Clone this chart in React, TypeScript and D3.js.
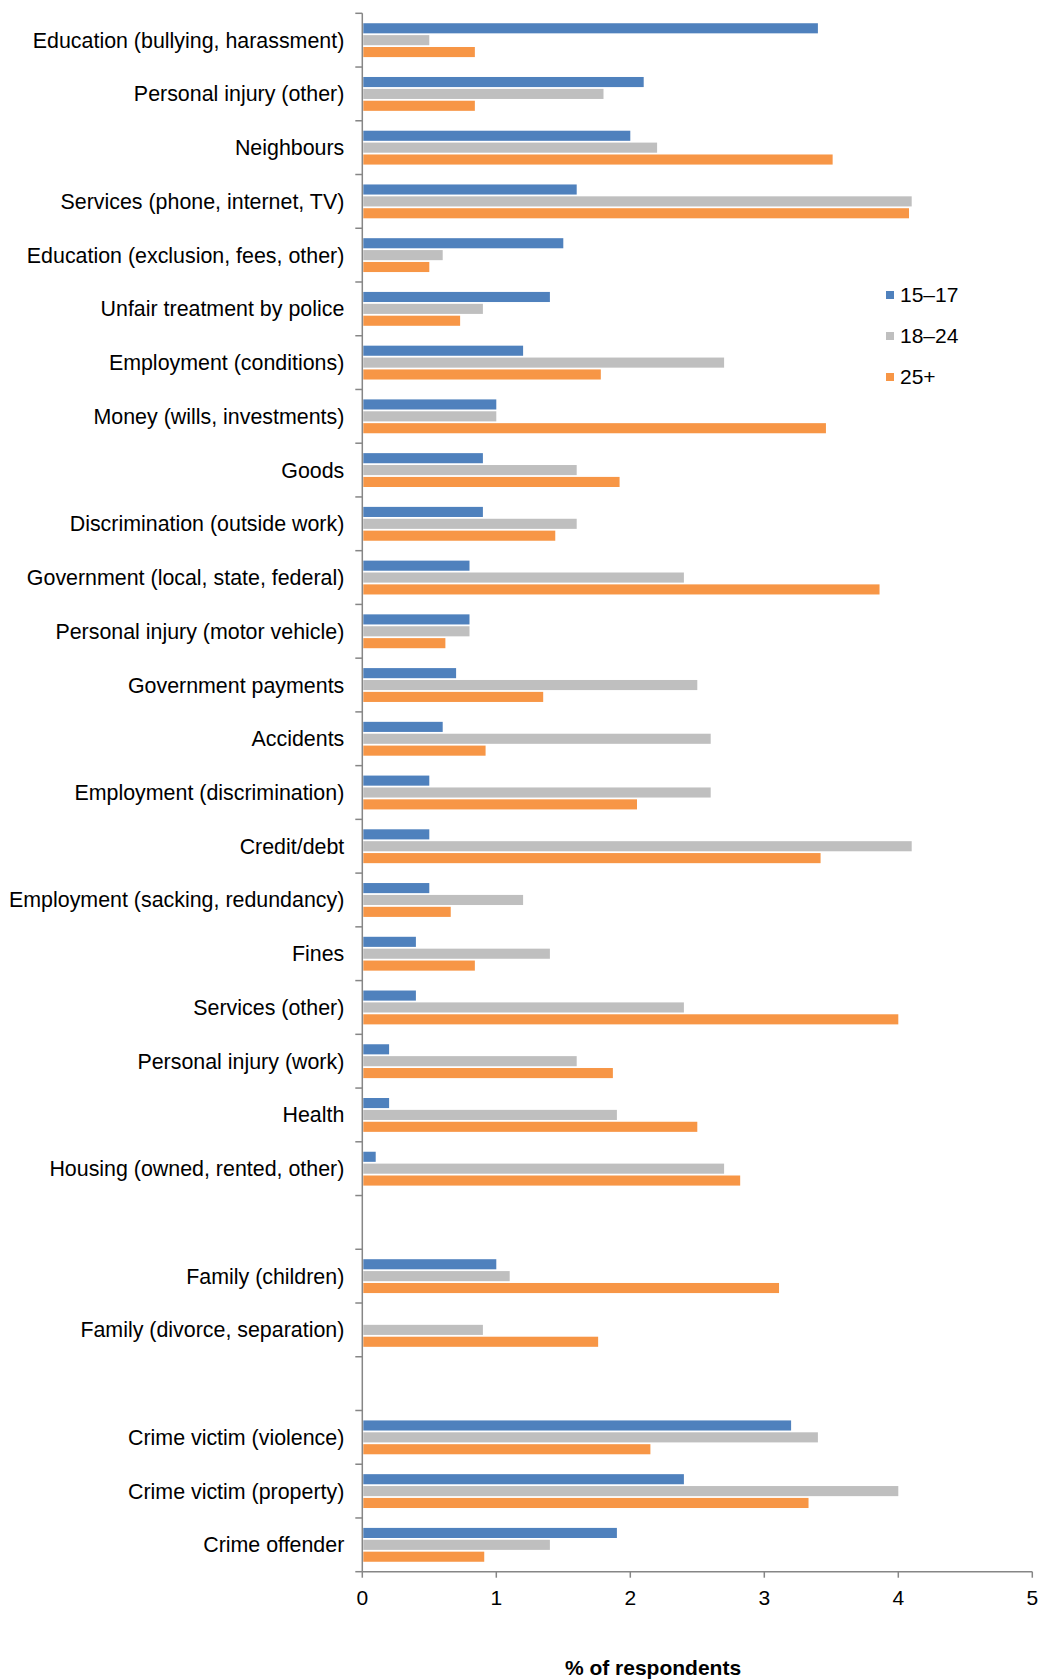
import { useEffect, useRef } from "react"
import * as d3 from "d3"

// rows top to bottom; "" = empty spacer row
const CATEGORIES = [
  "Education (bullying, harassment)",
  "Personal injury (other)",
  "Neighbours",
  "Services (phone, internet, TV)",
  "Education (exclusion, fees, other)",
  "Unfair treatment by police",
  "Employment (conditions)",
  "Money (wills, investments)",
  "Goods",
  "Discrimination (outside work)",
  "Government (local, state, federal)",
  "Personal injury (motor vehicle)",
  "Government payments",
  "Accidents",
  "Employment (discrimination)",
  "Credit/debt",
  "Employment (sacking, redundancy)",
  "Fines",
  "Services (other)",
  "Personal injury (work)",
  "Health",
  "Housing (owned, rented, other)",
  "",
  "Family (children)",
  "Family (divorce, separation)",
  "",
  "Crime victim (violence)",
  "Crime victim (property)",
  "Crime offender",
]

const AGE_15_17 = [3.4, 2.1, 2.0, 1.6, 1.5, 1.4, 1.2, 1.0, 0.9, 0.9, 0.8, 0.8, 0.7, 0.6, 0.5, 0.5, 0.5, 0.4, 0.4, 0.2, 0.2, 0.1, null, 1.0, 0, null, 3.2, 2.4, 1.9]
const AGE_18_24 = [0.5, 1.8, 2.2, 4.1, 0.6, 0.9, 2.7, 1.0, 1.6, 1.6, 2.4, 0.8, 2.5, 2.6, 2.6, 4.1, 1.2, 1.4, 2.4, 1.6, 1.9, 2.7, null, 1.1, 0.9, null, 3.4, 4.0, 1.4]
const AGE_25_PLUS = [0.84, 0.84, 3.51, 4.08, 0.5, 0.73, 1.78, 3.46, 1.92, 1.44, 3.86, 0.62, 1.35, 0.92, 2.05, 3.42, 0.66, 0.84, 4.0, 1.87, 2.5, 2.82, null, 3.11, 1.76, null, 2.15, 3.33, 0.91]

const SERIES = ["15–17", "18–24", "25+"]
const COLORS = ["#4F81BD", "#BFBFBF", "#F79646"]
const X_TICKS = [0, 1, 2, 3, 4, 5]

const W = 1040
const H = 1679
const FONT = "'Liberation Sans', Arial, sans-serif"

export default function App() {
  const svgRef = useRef<SVGSVGElement>(null)

  useEffect(() => {
    const svg = d3.select(svgRef.current)
    svg.selectAll("*").remove()

    const left = 362.3
    const right = 1032.3
    const top = 13.3
    const bottom = 1571.7
    const axisColor = "#868686"

    const x = d3.scaleLinear().domain([0, 5]).range([left, right])
    const keys = CATEGORIES.map((_, i) => String(i))
    const y = d3.scaleBand().domain(keys).range([top, bottom]).paddingInner(0.37).paddingOuter(0.185)
    const step = y.step()
    const sub = d3.scaleBand().domain(SERIES).range([0, y.bandwidth()]).paddingInner(0.15)

    const seriesValues = [AGE_15_17, AGE_18_24, AGE_25_PLUS]

    // bars
    seriesValues.forEach((vals, si) => {
      svg.append("g").selectAll("rect")
        .data(vals.map((v, i) => ({ v, i })).filter((d) => d.v != null && d.v > 0))
        .join("rect")
        .attr("x", x(0) + 1)
        .attr("y", (d) => (y(String(d.i)) ?? 0) + (sub(SERIES[si]) ?? 0))
        .attr("width", (d) => x(d.v as number) - x(0) - 1)
        .attr("height", sub.bandwidth())
        .attr("fill", COLORS[si])
    })

    // y axis line and ticks at row boundaries
    const ga = svg.append("g").attr("stroke", axisColor).attr("stroke-width", 1.5)
    ga.append("line").attr("x1", left).attr("x2", left).attr("y1", top).attr("y2", bottom)
    ga.selectAll("line.yt")
      .data(d3.range(CATEGORIES.length + 1))
      .join("line")
      .attr("class", "yt")
      .attr("x1", left - 7).attr("x2", left)
      .attr("y1", (k) => top + k * step).attr("y2", (k) => top + k * step)

    // x axis
    ga.append("line").attr("x1", left).attr("x2", right).attr("y1", bottom).attr("y2", bottom)
    ga.selectAll("line.xt")
      .data(X_TICKS)
      .join("line")
      .attr("class", "xt")
      .attr("x1", (d) => x(d)).attr("x2", (d) => x(d))
      .attr("y1", bottom).attr("y2", bottom + 6)

    svg.append("g").selectAll("text")
      .data(X_TICKS)
      .join("text")
      .attr("x", (d) => x(d))
      .attr("y", bottom + 26)
      .attr("dy", "0.35em")
      .attr("text-anchor", "middle")
      .attr("font-family", FONT)
      .attr("font-size", 21)
      .attr("fill", "#000")
      .text((d) => d)

    // category labels
    svg.append("g").selectAll("text")
      .data(CATEGORIES.map((c, i) => ({ c, i })).filter((d) => d.c !== ""))
      .join("text")
      .attr("x", left - 18)
      .attr("y", (d) => (y(String(d.i)) ?? 0) + y.bandwidth() / 2)
      .attr("dy", "0.35em")
      .attr("text-anchor", "end")
      .attr("font-family", FONT)
      .attr("font-size", 21.4)
      .attr("fill", "#000")
      .text((d) => d.c)

    // axis title
    svg.append("text")
      .attr("x", 653)
      .attr("y", 1675)
      .attr("text-anchor", "middle")
      .attr("font-family", FONT)
      .attr("font-size", 21)
      .attr("font-weight", "bold")
      .attr("fill", "#000")
      .text("% of respondents")

    // legend
    const lg = svg.append("g")
    SERIES.forEach((s, i) => {
      const cy = 295 + i * 41
      lg.append("rect").attr("x", 886).attr("y", cy - 4).attr("width", 8).attr("height", 8).attr("fill", COLORS[i])
      lg.append("text")
        .attr("x", 900)
        .attr("y", cy)
        .attr("dy", "0.35em")
        .attr("font-family", FONT)
        .attr("font-size", 21)
        .attr("fill", "#000")
        .text(s)
    })
  }, [])

  return (
    <svg
      ref={svgRef}
      width={W}
      height={H}
      style={{ position: "absolute", left: 0, top: 0, background: "#fff" }}
    />
  )
}
